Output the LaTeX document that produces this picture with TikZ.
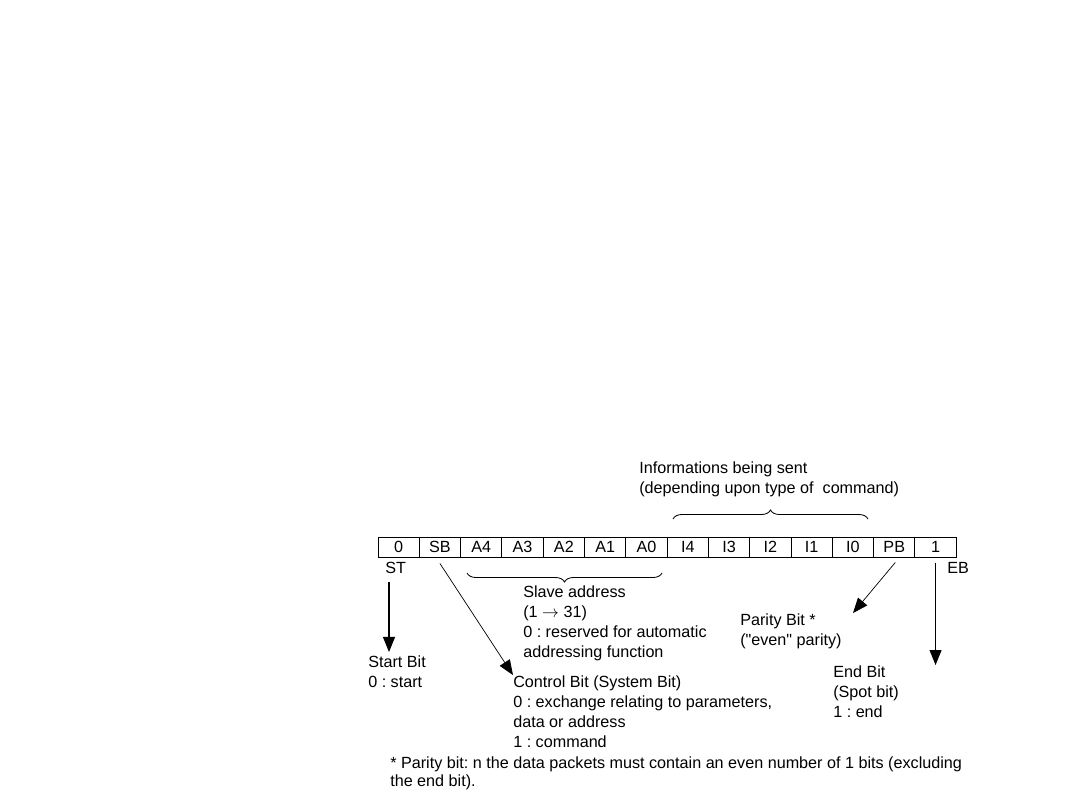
\documentclass[tikz,border=0pt]{standalone}
\usepackage{fontspec}
\setmainfont{Liberation Sans}
\usetikzlibrary{arrows.meta, positioning, decorations.pathreplacing, calc}
\frenchspacing

\tikzset{
  bitcell/.style={draw, line width=0.7pt, minimum width=1.0325cm, minimum height=0.5cm, inner sep=0pt},
  lbl/.style={anchor=base west, align=left, inner sep=0pt},
  sig/.style={-{Triangle[length=10.7pt, width=8.5pt]}, line width=0.8pt},
  bracelink/.style={decorate, decoration={brace, amplitude=6.4pt}, line width=0.6pt},
}

\begin{document}
\begin{tikzpicture}[x=0.025cm, y=-0.025cm, font=\fontsize{11.5}{14.2}\selectfont]
    \useasboundingbox (0,0) rectangle (1080,810);
    % the frame, one cell per bit
    \foreach \b [count=\i] in {0,SB,A4,A3,A2,A1,A0,I4,I3,I2,I1,I0,PB,1}
      \node[bitcell] (c\i) at ({378+41.3*(\i-0.5)}, 547) {\b};
    % braces
    \coordinate (infoL) at (673,519);
    \coordinate (infoR) at (868,519);
    \coordinate (slaveL) at (467,573);
    \coordinate (slaveR) at (662,573);
    \draw[bracelink] (infoL) -- (infoR);
    \draw[bracelink] (slaveR) -- (slaveL);
    % labels (placed at the baseline of their last line)
    \node[lbl] (info) at (639,493) {Informations being sent\\(depending upon type of\ \ command)};
    \node[lbl] (st) at (385,573) {ST};
    \node[lbl] (eb) at (947,573) {EB};
    \node[lbl] (slave) at (523,657) {Slave address\\(1 $\rightarrow$ 31)\\0 : reserved for automatic\\addressing function};
    \node[lbl] (parity) at (740,645) {Parity Bit *\\(\textquotedbl even\textquotedbl\ parity)};
    \node[lbl] (startbit) at (368,687) {Start Bit\\0 : start};
    \node[lbl] (ctrl) at (513,747) {Control Bit (System Bit)\\0 : exchange relating to parameters,\\data or address\\1 : command};
    \node[lbl] (endbit) at (833,717) {End Bit\\(Spot bit)\\1 : end};
    \node[lbl, font=\fontsize{11.5}{12.8}\selectfont] (note) at (390,786) {* Parity bit: n the data packets must contain an even number of 1 bits (excluding\\the end bit).};
    % arrows
    \draw[sig] ($(st.south west)+(4,9)$) -- ($(startbit.north west)+(21,-3)$);
    \draw[sig, line width=0.5pt] ($(c2.south)+(0,6)$) -- (ctrl.north west);
    \draw[sig, line width=0.5pt] ($(c13.south)+(1,5)$) -- ($(parity.north west)+(113,0)$);
    \draw[sig] ($(c14.south)+(0,5)$) -- (c14.south |- endbit.north);
\end{tikzpicture}
\end{document}
